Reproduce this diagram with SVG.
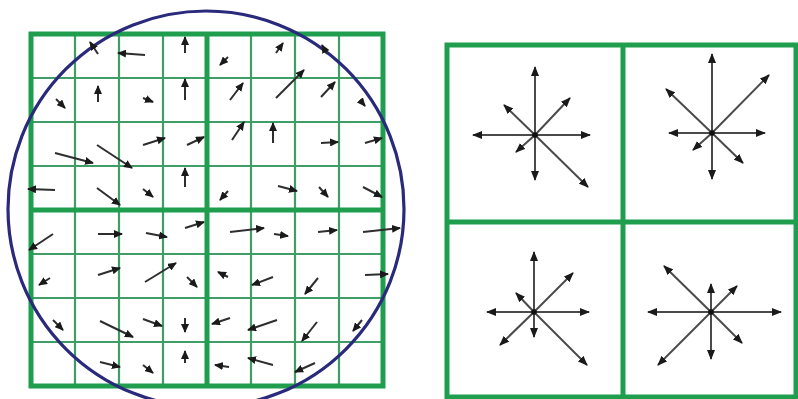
<svg xmlns="http://www.w3.org/2000/svg" width="798" height="399" viewBox="0 0 798 399">
<defs>
<style>
.thin{stroke:#3f9d66;stroke-width:2.2;fill:none}
.thick{stroke:#1f9e4e;stroke-width:5;fill:none}
.ga{stroke:#2e2e2e;stroke-width:2;fill:none;marker-end:url(#ah)}
.sa{stroke:#4a4a4a;stroke-width:2;fill:none;marker-end:url(#sh)}
</style>
<marker id="ah" markerUnits="userSpaceOnUse" markerWidth="9" markerHeight="8" refX="8" refY="4" orient="auto"><path d="M0,0 L9,4 L0,8 z" fill="#1a1a1a"/></marker>
<marker id="sh" markerUnits="userSpaceOnUse" markerWidth="10" markerHeight="8" refX="9" refY="4" orient="auto"><path d="M0,0 L10,4 L0,8 z" fill="#1a1a1a"/></marker>
</defs>
<rect width="798" height="399" fill="#fff"/>
<g id="left-grid">
<path class="thin" d="M75,34V386M119,34V386M163,34V386M251,34V386M295,34V386M339,34V386M31,78H383M31,122H383M31,166H383M31,254H383M31,298H383M31,342H383"/>
<path class="thick" d="M207,34V386M31,210H383"/>
<rect class="thick" x="31" y="34" width="352" height="352"/>
</g>
<g id="circle"><circle cx="206" cy="209" r="198" fill="none" stroke="#2a2a7c" stroke-width="3.2"/></g>
<g id="connectors">
<line class="ga" x1="98" y1="54" x2="90" y2="42"/>
<line class="ga" x1="145" y1="55" x2="118" y2="53"/>
<line class="ga" x1="185" y1="53" x2="185" y2="37"/>
<line class="ga" x1="56" y1="99" x2="65" y2="108"/>
<line class="ga" x1="98" y1="102" x2="98" y2="86"/>
<line class="ga" x1="143" y1="98" x2="153" y2="102"/>
<line class="ga" x1="185" y1="100" x2="185" y2="79"/>
<line class="ga" x1="55" y1="153" x2="93" y2="163"/>
<line class="ga" x1="97" y1="145" x2="132" y2="168"/>
<line class="ga" x1="143" y1="145" x2="165" y2="138"/>
<line class="ga" x1="187" y1="145" x2="204" y2="137"/>
<line class="ga" x1="55" y1="190" x2="28" y2="189"/>
<line class="ga" x1="97" y1="188" x2="120" y2="205"/>
<line class="ga" x1="143" y1="189" x2="153" y2="197"/>
<line class="ga" x1="185" y1="187" x2="185" y2="168"/>
<line class="ga" x1="228" y1="57" x2="220" y2="65"/>
<line class="ga" x1="276" y1="53" x2="283" y2="43"/>
<line class="ga" x1="327" y1="54" x2="322" y2="45"/>
<line class="ga" x1="230" y1="100" x2="243" y2="83"/>
<line class="ga" x1="276" y1="98" x2="304" y2="70"/>
<line class="ga" x1="321" y1="97" x2="335" y2="82"/>
<line class="ga" x1="360" y1="100" x2="365" y2="106"/>
<line class="ga" x1="232" y1="140" x2="244" y2="122"/>
<line class="ga" x1="273" y1="143" x2="273" y2="123"/>
<line class="ga" x1="321" y1="143" x2="338" y2="142"/>
<line class="ga" x1="365" y1="143" x2="382" y2="138"/>
<line class="ga" x1="228" y1="191" x2="220" y2="200"/>
<line class="ga" x1="278" y1="186" x2="297" y2="191"/>
<line class="ga" x1="319" y1="187" x2="328" y2="197"/>
<line class="ga" x1="363" y1="187" x2="382" y2="197"/>
<line class="ga" x1="53" y1="234" x2="29" y2="250"/>
<line class="ga" x1="98" y1="234" x2="122" y2="234"/>
<line class="ga" x1="146" y1="233" x2="167" y2="237"/>
<line class="ga" x1="185" y1="228" x2="204" y2="222"/>
<line class="ga" x1="50" y1="278" x2="39" y2="285"/>
<line class="ga" x1="98" y1="275" x2="120" y2="268"/>
<line class="ga" x1="145" y1="282" x2="176" y2="263"/>
<line class="ga" x1="187" y1="277" x2="197" y2="287"/>
<line class="ga" x1="53" y1="320" x2="63" y2="330"/>
<line class="ga" x1="100" y1="321" x2="133" y2="337"/>
<line class="ga" x1="143" y1="319" x2="162" y2="326"/>
<line class="ga" x1="185" y1="318" x2="185" y2="332"/>
<line class="ga" x1="100" y1="362" x2="120" y2="367"/>
<line class="ga" x1="143" y1="365" x2="153" y2="373"/>
<line class="ga" x1="185" y1="363" x2="185" y2="351"/>
<line class="ga" x1="230" y1="232" x2="264" y2="228"/>
<line class="ga" x1="274" y1="234" x2="288" y2="236"/>
<line class="ga" x1="318" y1="232" x2="337" y2="230"/>
<line class="ga" x1="363" y1="232" x2="400" y2="228"/>
<line class="ga" x1="228" y1="277" x2="218" y2="272"/>
<line class="ga" x1="273" y1="277" x2="252" y2="285"/>
<line class="ga" x1="318" y1="278" x2="305" y2="294"/>
<line class="ga" x1="365" y1="275" x2="388" y2="274"/>
<line class="ga" x1="230" y1="318" x2="212" y2="324"/>
<line class="ga" x1="277" y1="320" x2="248" y2="330"/>
<line class="ga" x1="317" y1="322" x2="302" y2="341"/>
<line class="ga" x1="362" y1="320" x2="353" y2="331"/>
<line class="ga" x1="229" y1="367" x2="215" y2="365"/>
<line class="ga" x1="273" y1="365" x2="248" y2="358"/>
<line class="ga" x1="315" y1="363" x2="295" y2="372"/>
</g>
<g id="right-grid">
<rect class="thick" x="447" y="45" width="349" height="352"/>
<path class="thick" d="M623,45V397M447,222H796"/>
</g>
<g id="star-1">
<path class="sa" d="M535,135L535,67"/><path class="sa" d="M535,135L535,180"/><path class="sa" d="M535,135L473,135"/><path class="sa" d="M535,135L590,135"/>
<path class="sa" d="M535,135L504,105"/><path class="sa" d="M535,135L570,98"/><path class="sa" d="M535,135L516,152"/><path class="sa" d="M535,135L588,187"/>
<circle cx="535" cy="135" r="2.8" fill="#111"/>
</g>
<g id="star-2">
<path class="sa" d="M712,133L712,54"/><path class="sa" d="M712,133L712,179"/><path class="sa" d="M712,133L669,133"/><path class="sa" d="M712,133L765,133"/>
<path class="sa" d="M712,133L666,89"/><path class="sa" d="M712,133L769,75"/><path class="sa" d="M712,133L693,150"/><path class="sa" d="M712,133L743,163"/>
<circle cx="712" cy="133" r="2.8" fill="#111"/>
</g>
<g id="star-3">
<path class="sa" d="M534,312L534,252"/><path class="sa" d="M534,312L534,337"/><path class="sa" d="M534,312L487,312"/><path class="sa" d="M534,312L589,312"/>
<path class="sa" d="M534,312L516,293"/><path class="sa" d="M534,312L573,273"/><path class="sa" d="M534,312L500,345"/><path class="sa" d="M534,312L587,365"/>
<circle cx="534" cy="312" r="2.8" fill="#111"/>
</g>
<g id="star-4">
<path class="sa" d="M711,312L711,284"/><path class="sa" d="M711,312L711,359"/><path class="sa" d="M711,312L648,312"/><path class="sa" d="M711,312L781,312"/>
<path class="sa" d="M711,312L664,266"/><path class="sa" d="M711,312L737,286"/><path class="sa" d="M711,312L658,365"/><path class="sa" d="M711,312L742,343"/>
<circle cx="711" cy="312" r="2.8" fill="#111"/>
</g>
</svg>
